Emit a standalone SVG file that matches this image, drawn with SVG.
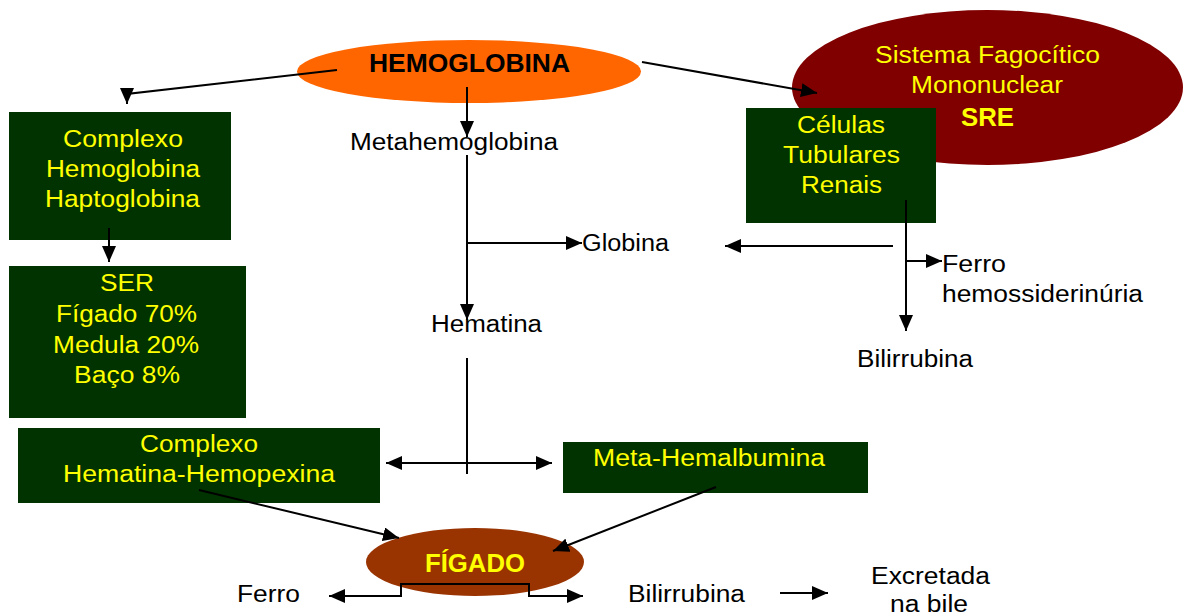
<svg xmlns="http://www.w3.org/2000/svg" width="1184" height="616" viewBox="0 0 1184 616">
  <style>
    text { font-family: "Liberation Sans", Arial, sans-serif; font-size: 23.5px; }
    .dark { fill: #000000; }
    .yel { fill: #FFFF00; }
    .bold { font-weight: bold; font-size: 25px; }
    .box { fill: #003300; }
    .wire { fill: none; stroke: #000000; stroke-width: 2; }
  </style>
  <defs>
    <marker id="arrow" markerUnits="userSpaceOnUse" markerWidth="16" markerHeight="14" refX="16" refY="7" orient="auto-start-reverse">
      <path d="M0,0 L16,7 L0,14 z" fill="#000000"/>
    </marker>
  </defs>

  <rect width="1184" height="616" fill="#FFFFFF"/>

  <!-- main nodes -->
  <g id="sre">
    <ellipse cx="987.5" cy="87.5" rx="195.5" ry="77.5" fill="#800000"/>
    <text class="yel" x="875" y="63" textLength="225" lengthAdjust="spacingAndGlyphs">Sistema Fagocítico</text>
    <text class="yel" x="911" y="93" textLength="152" lengthAdjust="spacingAndGlyphs">Mononuclear</text>
    <text class="yel bold" x="961" y="126" textLength="53" lengthAdjust="spacingAndGlyphs">SRE</text>
  </g>

  <g id="hemoglobina">
    <ellipse cx="469" cy="71.5" rx="172" ry="31.5" fill="#FF6600"/>
    <text class="dark bold" x="369" y="72" textLength="201" lengthAdjust="spacingAndGlyphs">HEMOGLOBINA</text>
  </g>

  <g id="celulas-tubulares">
    <rect class="box" x="746" y="108" width="190" height="115"/>
    <text class="yel" x="797" y="133" textLength="88" lengthAdjust="spacingAndGlyphs">Células</text>
    <text class="yel" x="783" y="163" textLength="117" lengthAdjust="spacingAndGlyphs">Tubulares</text>
    <text class="yel" x="801" y="193" textLength="81" lengthAdjust="spacingAndGlyphs">Renais</text>
  </g>

  <g id="complexo-haptoglobina">
    <rect class="box" x="9" y="112" width="222" height="128"/>
    <text class="yel" x="63" y="147" textLength="120" lengthAdjust="spacingAndGlyphs">Complexo</text>
    <text class="yel" x="46" y="177" textLength="154" lengthAdjust="spacingAndGlyphs">Hemoglobina</text>
    <text class="yel" x="45" y="207" textLength="155" lengthAdjust="spacingAndGlyphs">Haptoglobina</text>
  </g>

  <g id="ser">
    <rect class="box" x="9" y="266" width="237" height="152"/>
    <text class="yel" x="100" y="291" textLength="54" lengthAdjust="spacingAndGlyphs">SER</text>
    <text class="yel" x="56" y="322" textLength="141" lengthAdjust="spacingAndGlyphs">Fígado 70%</text>
    <text class="yel" x="53" y="353" textLength="146" lengthAdjust="spacingAndGlyphs">Medula 20%</text>
    <text class="yel" x="74" y="383" textLength="106" lengthAdjust="spacingAndGlyphs">Baço 8%</text>
  </g>

  <g id="hemopexina">
    <rect class="box" x="18" y="428" width="362" height="75"/>
    <text class="yel" x="140" y="452" textLength="118" lengthAdjust="spacingAndGlyphs">Complexo</text>
    <text class="yel" x="63" y="482" textLength="272" lengthAdjust="spacingAndGlyphs">Hematina-Hemopexina</text>
  </g>

  <g id="meta-hemalbumina">
    <rect class="box" x="563" y="442" width="305" height="51"/>
    <text class="yel" x="593" y="466" textLength="232" lengthAdjust="spacingAndGlyphs">Meta-Hemalbumina</text>
  </g>

  <g id="figado">
    <ellipse cx="475" cy="562" rx="109" ry="34" fill="#993300"/>
    <text class="yel bold" x="425" y="572" textLength="100" lengthAdjust="spacingAndGlyphs">FÍGADO</text>
  </g>

  <!-- plain text nodes -->
  <g id="metahemoglobina">
    <text class="dark" x="350" y="150" textLength="208" lengthAdjust="spacingAndGlyphs">Metahemoglobina</text>
  </g>
  <g id="globina">
    <text class="dark" x="582" y="251" textLength="87" lengthAdjust="spacingAndGlyphs">Globina</text>
  </g>
  <g id="hematina">
    <text class="dark" x="431" y="332" textLength="111" lengthAdjust="spacingAndGlyphs">Hematina</text>
  </g>
  <g id="ferro-renal">
    <text class="dark" x="942" y="272" textLength="64" lengthAdjust="spacingAndGlyphs">Ferro</text>
    <text class="dark" x="942" y="302" textLength="201" lengthAdjust="spacingAndGlyphs">hemossiderinúria</text>
  </g>
  <g id="bilirrubina-renal">
    <text class="dark" x="857" y="367" textLength="116" lengthAdjust="spacingAndGlyphs">Bilirrubina</text>
  </g>
  <g id="ferro-hepatico">
    <text class="dark" x="237" y="602" textLength="63" lengthAdjust="spacingAndGlyphs">Ferro</text>
  </g>
  <g id="bilirrubina-hepatica">
    <text class="dark" x="628" y="602" textLength="117" lengthAdjust="spacingAndGlyphs">Bilirrubina</text>
  </g>
  <g id="excretada">
    <text class="dark" x="871" y="584" textLength="119" lengthAdjust="spacingAndGlyphs">Excretada</text>
    <text class="dark" x="890" y="612" textLength="78" lengthAdjust="spacingAndGlyphs">na bile</text>
  </g>

  <!-- connectors -->
  <g id="connectors">
    <path class="wire" d="M337,70 L127,94 L127,104" marker-end="url(#arrow)"/>
    <path class="wire" d="M642,62 L817,93" marker-end="url(#arrow)"/>
    <path class="wire" d="M467,87 V137" marker-end="url(#arrow)"/>
    <path class="wire" d="M109,228 V262" marker-end="url(#arrow)"/>
    <path class="wire" d="M467,155 V320" marker-end="url(#arrow)"/>
    <path class="wire" d="M467,243 H582" marker-end="url(#arrow)"/>
    <path class="wire" d="M906,200 V331" marker-end="url(#arrow)"/>
    <path class="wire" d="M906,261 H942" marker-end="url(#arrow)"/>
    <path class="wire" d="M893,246 H725" marker-end="url(#arrow)"/>
    <path class="wire" d="M467,358 V474"/>
    <path class="wire" d="M386,463 H552" marker-start="url(#arrow)" marker-end="url(#arrow)"/>
    <path class="wire" d="M199,490 L399,538" marker-end="url(#arrow)"/>
    <path class="wire" d="M716,487 L553,551" marker-end="url(#arrow)"/>
    <path class="wire" d="M475,584 H401 V596 H329" marker-end="url(#arrow)"/>
    <path class="wire" d="M475,584 H529 V596 H583" marker-end="url(#arrow)"/>
    <path class="wire" d="M780,593 H828" marker-end="url(#arrow)"/>
  </g>
</svg>
